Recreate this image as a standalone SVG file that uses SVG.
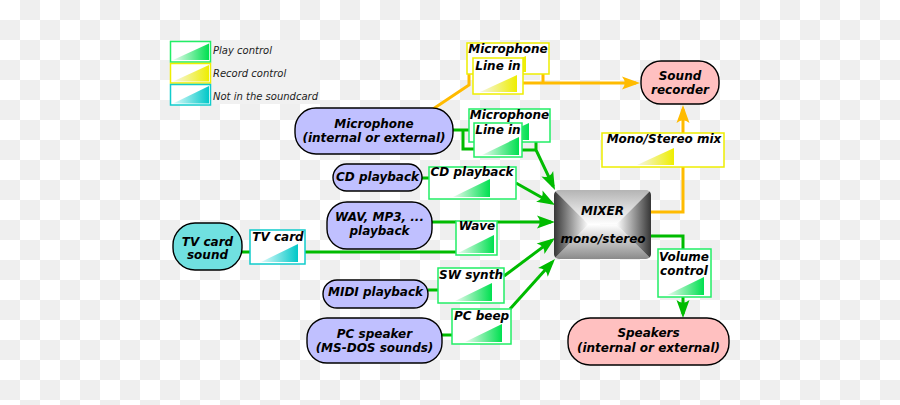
<svg xmlns="http://www.w3.org/2000/svg" width="900" height="405" viewBox="0 0 900 405">
<style>
.lbl{font-family:"DejaVu Sans","Liberation Sans",sans-serif;font-size:12px;font-weight:bold;font-style:italic;fill:#000;text-anchor:middle}
.leg{font-family:"DejaVu Sans","Liberation Sans",sans-serif;font-size:10px;font-style:italic;fill:#222}
.node{stroke:#000;stroke-width:1.4}
.blue{fill:#c0c0ff}.pink{fill:#ffc0c0}.cyan{fill:#70e0e0}
.ctl{fill:#fff;stroke-width:1.5}
.g{stroke:#22ee66}.y{stroke:#eeee00}.c{stroke:#11cccc}
.wg{fill:none;stroke:#00bb00;stroke-width:3}
.wo{fill:none;stroke:#ffbb00;stroke-width:3}
.tg{fill:url(#gradG)}.ty{fill:url(#gradY)}.tc{fill:url(#gradC)}
</style>
<defs>
<pattern id="checker" width="40" height="40" patternUnits="userSpaceOnUse">
<rect width="40" height="40" fill="#ffffff"/>
<rect x="20" y="0" width="20" height="20" fill="#efefef"/>
<rect x="0" y="20" width="20" height="20" fill="#efefef"/>
</pattern>
<linearGradient id="gradG"><stop offset="0" stop-color="#eafbef"/><stop offset="1" stop-color="#00e050"/></linearGradient>
<linearGradient id="gradY"><stop offset="0" stop-color="#f6f6e6"/><stop offset="1" stop-color="#eeee00"/></linearGradient>
<linearGradient id="gradC"><stop offset="0" stop-color="#e0fbfb"/><stop offset="1" stop-color="#00c8c8"/></linearGradient>
<linearGradient id="mxL" x1="0" y1="0" x2="1" y2="0"><stop offset="0" stop-color="#363636"/><stop offset="1" stop-color="#ffffff"/></linearGradient>
<linearGradient id="mxR" x1="1" y1="0" x2="0" y2="0"><stop offset="0" stop-color="#363636"/><stop offset="1" stop-color="#ffffff"/></linearGradient>
<linearGradient id="mxT" x1="0" y1="0" x2="0" y2="1"><stop offset="0" stop-color="#b4b4b4"/><stop offset="1" stop-color="#ffffff"/></linearGradient>
<linearGradient id="mxB" x1="0" y1="1" x2="0" y2="0"><stop offset="0" stop-color="#8a8a8a"/><stop offset="1" stop-color="#ffffff"/></linearGradient>
<clipPath id="mxClip"><rect x="554" y="190" width="97" height="69" rx="5"/></clipPath>
<marker id="arrG" markerUnits="userSpaceOnUse" viewBox="-15 -8 20 16" markerWidth="20" markerHeight="16" refX="0" refY="0" orient="auto">
<path d="M4,0 L-14,-6.5 Q-8.5,0 -14,6.5 Z" fill="#00bb00"/>
</marker>
<marker id="arrO" markerUnits="userSpaceOnUse" viewBox="-15 -8 20 16" markerWidth="20" markerHeight="16" refX="0" refY="0" orient="auto">
<path d="M4,0 L-14,-6.5 Q-8.5,0 -14,6.5 Z" fill="#ffbb00"/>
</marker>
</defs>

<rect width="900" height="405" fill="url(#checker)"/>

<g id="legend">
<rect x="170" y="40" width="150" height="64" fill="#f1f1f1"/>
<rect class="ctl g" x="170.5" y="41.5" width="40" height="20.5"/>
<polygon class="tg" points="173,60 209,60 209,43.5"/>
<text class="leg" x="213" y="53.5">Play control</text>
<rect class="ctl y" x="170.5" y="63.5" width="40" height="19.5"/>
<polygon class="ty" points="173,81.5 209,81.5 209,65"/>
<text class="leg" x="213" y="77">Record control</text>
<rect class="ctl c" x="170.5" y="84.5" width="40" height="20.5"/>
<polygon class="tc" points="173,103.5 209,103.5 209,86"/>
<text class="leg" x="213" y="100">Not in the soundcard</text>
</g>

<g id="connectors">
<path class="wo" d="M433,109 L469,85 V74"/>
<path class="wo" d="M543,74 V83"/>
<path class="wo" d="M523,83 H636" marker-end="url(#arrO)"/>
<path class="wo" d="M651,212 H683 V167"/>
<path class="wo" d="M683,133 V109" marker-end="url(#arrO)"/>
<path class="wg" d="M453,130 H469"/>
<path class="wg" d="M463,130 V149 H474"/>
<path class="wg" d="M522,150 H536"/>
<path class="wg" d="M536,142 V150 L553.3,186.4" marker-end="url(#arrG)"/>
<path class="wg" d="M422,178 H429"/>
<path class="wg" d="M516,183 L551.5,203" marker-end="url(#arrG)"/>
<path class="wg" d="M432,222 H456"/>
<path class="wg" d="M497,222 H551" marker-end="url(#arrG)"/>
<path class="wg" d="M242,252 H250"/>
<path class="wg" d="M305,252 H456"/>
<path class="wg" d="M428,290 H438"/>
<path class="wg" d="M504,276 L551.8,240.4" marker-end="url(#arrG)"/>
<path class="wg" d="M442,335 H452"/>
<path class="wg" d="M510,309 L552.3,262" marker-end="url(#arrG)"/>
<path class="wg" d="M651,236 H683 V249"/>
<path class="wg" d="M683,297 V314" marker-end="url(#arrG)"/>
</g>

<g id="microphone">
<rect class="node blue" x="295" y="108" width="158" height="46" rx="21"/>
<text class="lbl" x="374" y="128">Microphone</text>
<text class="lbl" x="374" y="142">(internal or external)</text>
</g>
<g id="cd-playback">
<rect class="node blue" x="333" y="164" width="89" height="27" rx="13.5"/>
<text class="lbl" x="377.5" y="181">CD playback</text>
</g>
<g id="wav-playback">
<rect class="node blue" x="327" y="202" width="105" height="47" rx="20"/>
<text class="lbl" x="379.5" y="221">WAV, MP3, ...</text>
<text class="lbl" x="379.5" y="235">playback</text>
</g>
<g id="tv-card-sound">
<rect class="node cyan" x="173" y="223" width="69" height="47" rx="22"/>
<text class="lbl" x="207.5" y="246">TV card</text>
<text class="lbl" x="207.5" y="259">sound</text>
</g>
<g id="midi-playback">
<rect class="node blue" x="323" y="280" width="105" height="28" rx="14"/>
<text class="lbl" x="375.5" y="296">MIDI playback</text>
</g>
<g id="pc-speaker">
<rect class="node blue" x="307" y="318" width="135" height="45" rx="20"/>
<text class="lbl" x="374.5" y="338">PC speaker</text>
<text class="lbl" x="374.5" y="352">(MS-DOS sounds)</text>
</g>
<g id="sound-recorder">
<rect class="node pink" x="641" y="61" width="78" height="43" rx="20"/>
<text class="lbl" x="680" y="80">Sound</text>
<text class="lbl" x="680" y="94">recorder</text>
</g>
<g id="speakers">
<rect class="node pink" x="568" y="318" width="161" height="47" rx="22"/>
<text class="lbl" x="648.5" y="337">Speakers</text>
<text class="lbl" x="648.5" y="352">(internal or external)</text>
</g>
<g id="mixer">
<g clip-path="url(#mxClip)">
<polygon fill="url(#mxT)" points="554,190 651,190 616.5,224.5 588.5,224.5"/>
<polygon fill="url(#mxB)" points="554,259 651,259 616.5,224.5 588.5,224.5"/>
<polygon fill="url(#mxL)" points="554,190 588.5,224.5 554,259"/>
<polygon fill="url(#mxR)" points="651,190 616.5,224.5 651,259"/>
</g>
<text class="lbl" x="602.5" y="215">MIXER</text>
<text class="lbl" x="603" y="243">mono/stereo</text>
</g>

<g id="rec-microphone">
<rect class="ctl y" x="467" y="43" width="82" height="31"/>
<polygon class="ty" points="489,72 526,72 526,56"/>
<text class="lbl" x="508" y="53">Microphone</text>
</g>
<g id="rec-line-in">
<rect class="ctl y" x="473" y="58" width="50" height="36"/>
<polygon class="ty" points="480,92 517,92 517,75"/>
<text class="lbl" x="498" y="69.5">Line in</text>
</g>
<g id="play-microphone">
<rect class="ctl g" x="469" y="109" width="81" height="33"/>
<polygon class="tg" points="491,140 529,140 529,123"/>
<text class="lbl" x="509.5" y="118.5">Microphone</text>
</g>
<g id="play-line-in">
<rect class="ctl g" x="474" y="123" width="48" height="34"/>
<polygon class="tg" points="482,155 519,155 519,137"/>
<text class="lbl" x="498" y="133.5">Line in</text>
</g>
<g id="play-cd">
<rect class="ctl g" x="429" y="167" width="87" height="32"/>
<polygon class="tg" points="453,197 490,197 490,179"/>
<text class="lbl" x="472" y="176">CD playback</text>
</g>
<g id="play-wave">
<rect class="ctl g" x="456" y="221" width="41" height="34"/>
<polygon class="tg" points="458,253 494,253 494,235"/>
<text class="lbl" x="477" y="230">Wave</text>
</g>
<g id="tv-card-control">
<rect class="ctl c" x="250" y="230" width="55" height="34"/>
<polygon class="tc" points="261,262 298,262 298,244"/>
<text class="lbl" x="278" y="241">TV card</text>
</g>
<g id="play-sw-synth">
<rect class="ctl g" x="438" y="268" width="66" height="35"/>
<polygon class="tg" points="455,301 492,301 492,283"/>
<text class="lbl" x="471" y="279">SW synth</text>
</g>
<g id="play-pc-beep">
<rect class="ctl g" x="452" y="309" width="59" height="35"/>
<polygon class="tg" points="465,342 502,342 502,324"/>
<text class="lbl" x="481.5" y="320">PC beep</text>
</g>
<g id="rec-mono-stereo-mix">
<rect class="ctl y" x="602" y="133" width="122" height="34"/>
<polygon class="ty" points="637,165 674,165 674,148"/>
<text class="lbl" x="664" y="143">Mono/Stereo mix</text>
</g>
<g id="volume-control">
<rect class="ctl g" x="658" y="249" width="53" height="48"/>
<polygon class="tg" points="667,295 704,295 704,277"/>
<text class="lbl" x="684" y="261">Volume</text>
<text class="lbl" x="684" y="275">control</text>
</g>
</svg>
